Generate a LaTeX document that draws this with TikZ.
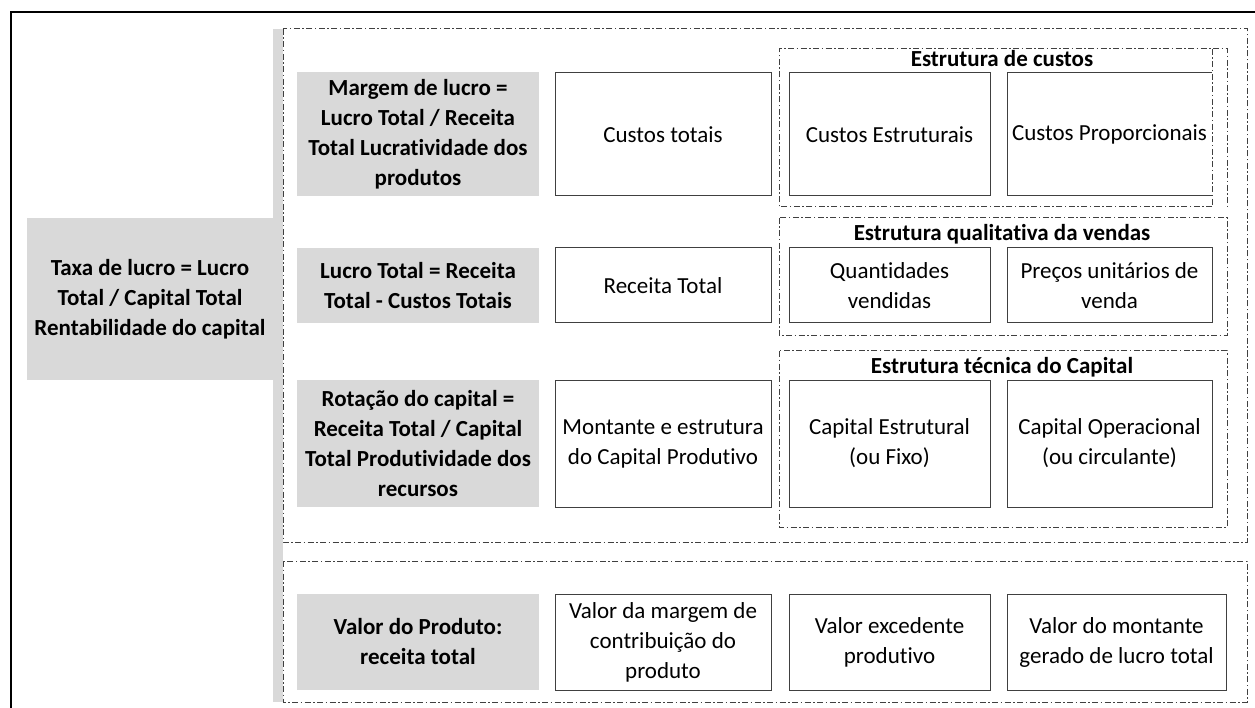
\documentclass[tikz,border=0pt]{standalone}
\usepackage{fontspec}
\setmainfont{Carlito}[Ligatures=NoCommon]
\definecolor{greyfill}{HTML}{D9D9D9}
\definecolor{linegrey}{HTML}{404040}
\definecolor{dashgrey}{HTML}{404040}
\begin{document}
\begin{tikzpicture}[x=1pt,y=-1pt,
  txt/.style={font=\fontsize{23}{30}\selectfont, align=center, inner sep=0pt, outer sep=0pt},
  greybox/.style={txt, fill=greyfill, font=\fontsize{23}{30}\selectfont\bfseries},
  whitebox/.style={txt, draw=linegrey, line width=1pt, fill=white},
  plainbox/.style={txt},
  grouptitle/.style={font=\fontsize{23}{28}\selectfont\bfseries, inner sep=0pt},
  dashdot/.style={draw=dashgrey, line width=1pt, dash pattern=on 6pt off 2.5pt on 1.5pt off 2.5pt},
  frame/.style={draw=black, line width=2.4pt}
]
\useasboundingbox (0,0) rectangle (1255,708);
% black frame
\coordinate (fbl) at (11,710);
\coordinate (ftl) at (11,12);
\coordinate (ftr) at (1257,12);
\draw[frame] (fbl) -- (ftl) -- (ftr);

% grey connector bar and left box
\fill[greyfill] (273,29) rectangle (283,702);
\node[greybox, minimum width=246pt, minimum height=162pt] (taxa) at (150,299)
  {Taxa de lucro = Lucro\\Total / Capital Total\\Rentabilidade do capital};

% outer dashed boxes
\draw[dashdot] (283,29) rectangle (1247,542);
\draw[dashdot] (283,561) rectangle (1247,702);

% group boxes
\draw[dashdot] (1212,207) -- (779,207) -- (779,49) -- (1227,49) -- (1227,207);
\draw[dashdot] (779,218) rectangle (1227,336);
\draw[dashdot] (779,351) rectangle (1227,527);
\node[grouptitle] (g1) at (1002,59) {Estrutura de custos};
\node[grouptitle] (g2) at (1002,234) {Estrutura qualitativa da vendas};
\node[grouptitle] (g3) at (1002,367) {Estrutura técnica do Capital};

% row 1
\node[greybox, minimum width=242pt, minimum height=124pt] (m1) at (418,134)
  {Margem de lucro =\\Lucro Total / Receita\\Total Lucratividade dos\\produtos};
\node[whitebox, minimum width=216pt, minimum height=123pt] (ct) at (663,134.5) {Custos totais};
\node[whitebox, minimum width=201pt, minimum height=123pt] (ce) at (889.5,134.5) {Custos Estruturais};
\node[plainbox, minimum width=205pt, minimum height=123pt] (cp) at (1109.5,134.5) {Custos Proporcionais};
\draw[draw=linegrey, line width=1pt] (cp.north east) -- (cp.north west) -- (cp.south west) -- (cp.south east);
\draw[dashdot] (1212,49) -- (1212,207);

% row 2
\node[greybox, minimum width=242pt, minimum height=75pt] (m2) at (418,285.5)
  {Lucro Total = Receita\\Total - Custos Totais};
\node[whitebox, minimum width=216pt, minimum height=75pt] (rt) at (663,285.5) {Receita Total};
\node[whitebox, minimum width=201pt, minimum height=75pt] (qv) at (889.5,285.5) {Quantidades\\vendidas};
\node[whitebox, minimum width=205pt, minimum height=75pt] (pu) at (1109.5,285.5) {Preços unitários de\\venda};

% row 3
\node[greybox, minimum width=242pt, minimum height=127pt] (m3) at (418,443.5)
  {Rotação do capital =\\Receita Total / Capital\\Total Produtividade dos\\recursos};
\node[whitebox, minimum width=216pt, minimum height=127pt] (mc) at (663,443.5) {Montante e estrutura\\do Capital Produtivo};
\node[whitebox, minimum width=201pt, minimum height=127pt] (cf) at (889.5,443.5) {Capital Estrutural\\(ou Fixo)};
\node[whitebox, minimum width=205pt, minimum height=127pt] (co) at (1109.5,443.5) {Capital Operacional\\(ou circulante)};

% row 4
\node[greybox, minimum width=242pt, minimum height=96pt] (m4) at (418,642)
  {Valor do Produto:\\receita total};
\node[whitebox, minimum width=216pt, minimum height=96pt] (vm) at (663,642) {Valor da margem de\\contribuição do\\produto};
\node[whitebox, minimum width=201pt, minimum height=96pt] (ve) at (889.5,642) {Valor excedente\\produtivo};
\node[whitebox, minimum width=219pt, minimum height=96pt] (vt) at (1116.5,642) {Valor do montante\\gerado de lucro total};
\end{tikzpicture}
\end{document}
